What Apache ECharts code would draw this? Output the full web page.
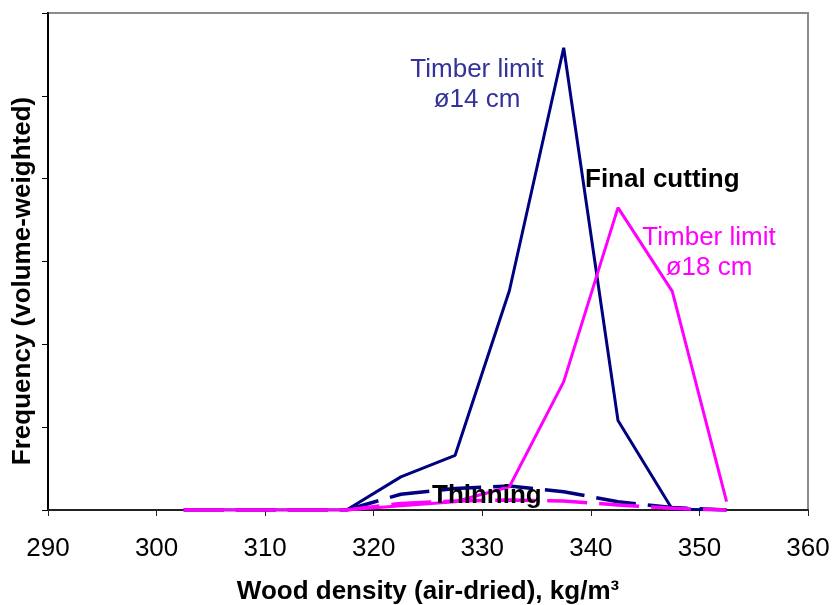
<!DOCTYPE html>
<html>
<head>
<meta charset="utf-8">
<script src="https://cdn.jsdelivr.net/npm/echarts@6/dist/echarts.min.js"></script>
<style>
html,body{margin:0;padding:0;background:#fff;}
#c{width:834px;height:605px;}
</style>
</head>
<body>
<div id="c"></div>
<script>
// Wood density class midpoints (kg/m3)
var densities = [302.5, 307.5, 312.5, 317.5, 322.5, 327.5, 332.5, 337.5, 342.5, 347.5, 352.5];
// Final cutting, timber limit 14 cm
var final14 = [0, 0, 0, 0, 0.40, 0.66, 2.65, 5.58, 1.08, 0.01, 0];
// Final cutting, timber limit 18 cm
var final18 = [0, 0, 0, 0, 0.05, 0.10, 0.28, 1.55, 3.65, 2.64, 0.10];
// Thinning, timber limit 14 cm
var thin14 = [0, 0, 0, 0, 0.19, 0.26, 0.29, 0.22, 0.10, 0.03, 0];
// Thinning, timber limit 18 cm
var thin18 = [0, 0, 0, 0, 0.08, 0.11, 0.12, 0.11, 0.06, 0.02, 0];
var xTicks = [290, 300, 310, 320, 330, 340, 350, 360];

function pairs(ys){ return densities.map(function(x,i){ return [x, ys[i]]; }); }

var NAVY = '#000080', MAG = '#ff00ff';
var chart = echarts.init(document.getElementById('c'));
var fam = '"Liberation Sans", Arial, sans-serif';
chart.setOption({
  animation: false,
  grid: {left: 48, right: 26, top: 13, bottom: 95, containLabel: false, outerBoundsMode: 'none',
         show: true, borderColor: '#8c8c8c', borderWidth: 2, backgroundColor: '#fff'},
  xAxis: {
    type: 'value', min: xTicks[0], max: xTicks[xTicks.length-1], interval: 10,
    name: 'Wood density (air-dried), kg/m³', nameLocation: 'middle', nameGap: 69,
    nameTextStyle: {fontFamily: fam, fontWeight: 'bold', fontSize: 26, color: '#000'},
    axisLine: {onZero: false, lineStyle: {color: '#222', width: 2}},
    axisTick: {show: true, inside: false, length: 6, lineStyle: {color: '#222', width: 1}},
    axisLabel: {fontFamily: fam, fontSize: 26, color: '#000', margin: 39, verticalAlign: 'middle'},
    splitLine: {show: false}
  },
  yAxis: {
    type: 'value', min: 0, max: 6, interval: 1,
    axisLine: {show: true, lineStyle: {color: '#000', width: 2}},
    axisTick: {show: true, inside: false, length: 6, lineStyle: {color: '#000', width: 1}},
    axisLabel: {show: false},
    splitLine: {show: false}
  },
  series: [
    {type: 'line', data: pairs(final14), symbol: 'none', lineStyle: {color: NAVY, width: 3}, z: 3},
    {type: 'line', data: pairs(thin14), symbol: 'none', lineStyle: {color: NAVY, width: 3.5, type: [40, 12]}, z: 3},
    {type: 'line', data: pairs(thin18), symbol: 'none', lineStyle: {color: MAG, width: 3.5, type: [40, 12]}, z: 4},
    {type: 'line', data: pairs(final18), symbol: 'none', lineStyle: {color: MAG, width: 3}, z: 4}
  ],
  graphic: [
    {type: 'text', x: 23, y: 281, rotation: Math.PI / 2, z: 10,
     style: {text: 'Frequency (volume-weighted)', fill: '#000', font: 'bold 26px ' + fam, align: 'center', verticalAlign: 'middle'}},
    {type: 'text', x: 477, y: 55, z: 10, style: {text: 'Timber limit\nø14 cm', fill: '#333399', font: '26px ' + fam, lineHeight: 30, align: 'center', verticalAlign: 'top'}},
    {type: 'text', x: 585, y: 167, z: 10, style: {text: 'Final cutting', fill: '#000', font: 'bold 26px ' + fam}},
    {type: 'text', x: 709, y: 223, z: 10, style: {text: 'Timber limit\nø18 cm', fill: MAG, font: '26px ' + fam, lineHeight: 30, align: 'center', verticalAlign: 'top'}},
    {type: 'text', x: 432, y: 483, z: 10, style: {text: 'Thinning', fill: '#000', font: 'bold 26px ' + fam}}
  ]
});
</script>
</body>
</html>
